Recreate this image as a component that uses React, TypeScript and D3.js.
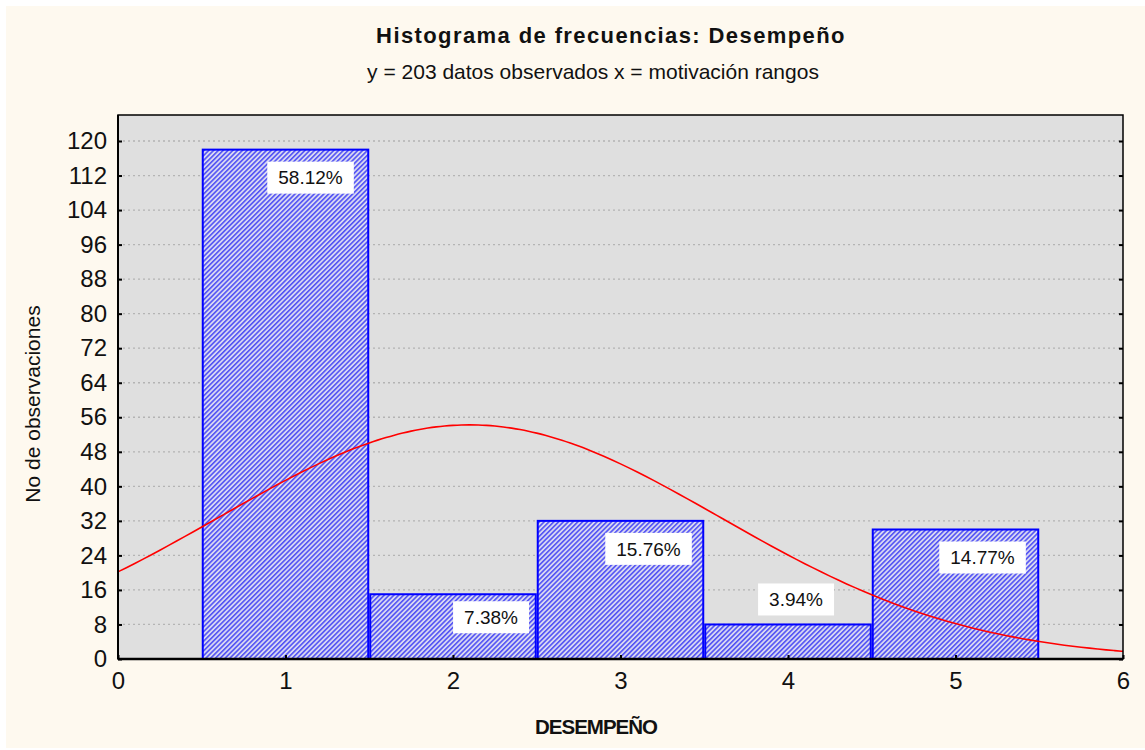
import { useEffect, useRef } from "react";
import * as d3 from "d3";

// bins of DESEMPEÑO and their observed counts
const categories = [1, 2, 3, 4, 5];
const counts = [118, 15, 32, 8, 30];
const percentLabels = ["58.12%", "7.38%", "15.76%", "3.94%", "14.77%"];
const yTicks = d3.range(0, 121, 8);
const xTicks = [0, 1, 2, 3, 4, 5, 6];

// label box placement relative to bar top / bar centre (layout only)
const labelDx = [25, 38, 28, 8, 27];
const labelDy = [28, 23, 28, -25, 28];

export default function App() {
    const svgRef = useRef(null);

    useEffect(() => {
        const svg = d3.select(svgRef.current);
        svg.selectAll("*").remove();

        const W = 1145;
        const H = 750;
        const margin = { top: 115, right: 22, bottom: 91, left: 118 };
        const innerW = W - margin.left - margin.right;
        const innerH = H - margin.top - margin.bottom;
        const font = "'Liberation Sans', Arial, sans-serif";

        svg.attr("width", W).attr("height", H);

        // background
        svg.append("rect").attr("width", W).attr("height", H).attr("fill", "#ffffff");
        svg.append("rect").attr("x", 6).attr("y", 6).attr("width", W - 6).attr("height", H - 8).attr("fill", "#fef9ef");

        // hatch pattern
        const defs = svg.append("defs");
        const pat = defs.append("pattern")
            .attr("id", "hatch")
            .attr("patternUnits", "userSpaceOnUse")
            .attr("width", 3.4)
            .attr("height", 3.4)
            .attr("patternTransform", "rotate(45)");
        pat.append("rect").attr("width", 3.4).attr("height", 3.4).attr("fill", "#d8d8f2");
        pat.append("line")
            .attr("x1", 0.8).attr("y1", 0).attr("x2", 0.8).attr("y2", 3.4)
            .attr("stroke", "#4040f5").attr("stroke-width", 1.4);

        const x = d3.scaleLinear().domain([0, 6]).range([0, innerW]);
        const y = d3.scaleLinear().domain([0, 120]).range([innerH, innerH - 518]);

        const g = svg.append("g").attr("transform", `translate(${margin.left},${margin.top})`);

        g.append("rect").attr("width", innerW).attr("height", innerH).attr("fill", "#dfdfdf");

        // dotted grid
        g.append("g")
            .selectAll("line")
            .data(yTicks.filter(d => d > 0))
            .enter()
            .append("line")
            .attr("x1", 0).attr("x2", innerW)
            .attr("y1", d => y(d)).attr("y2", d => y(d))
            .attr("stroke", "#b4b4b4")
            .attr("stroke-width", 1.3)
            .attr("stroke-dasharray", "2,3");

        // bars
        g.selectAll(".bar")
            .data(categories)
            .enter()
            .append("rect")
            .attr("class", "bar")
            .attr("x", d => x(d - 0.5) + 1)
            .attr("y", (d, i) => y(counts[i]))
            .attr("width", d => x(d + 0.5) - x(d - 0.5) - 2)
            .attr("height", (d, i) => innerH - y(counts[i]))
            .attr("fill", "url(#hatch)")
            .attr("stroke", "#0000ff")
            .attr("stroke-width", 2);

        // fitted normal curve
        const values = categories.flatMap((c, i) => d3.range(counts[i]).map(() => c));
        const mu = d3.mean(values);
        const sd = d3.deviation(values);
        const n = values.length;
        const normal = v => (n / (sd * Math.sqrt(2 * Math.PI))) * Math.exp(-((v - mu) ** 2) / (2 * sd * sd));
        const line = d3.line().x(d => x(d)).y(d => y(normal(d))).curve(d3.curveBasis);
        g.append("path")
            .datum(d3.range(0, 6.001, 0.05))
            .attr("fill", "none")
            .attr("stroke", "#ff0000")
            .attr("stroke-width", 1.6)
            .attr("d", line);

        // percentage labels
        const lbl = g.selectAll(".lbl")
            .data(categories)
            .enter()
            .append("g")
            .attr("class", "lbl")
            .attr("transform", (d, i) => `translate(${x(d) + labelDx[i]},${y(counts[i]) + labelDy[i]})`);
        lbl.append("text")
            .attr("text-anchor", "middle")
            .attr("dy", "0.36em")
            .attr("font-family", font)
            .attr("font-size", 19)
            .attr("fill", "#111")
            .text((d, i) => percentLabels[i])
            .each(function () {
                const bb = this.getBBox();
                d3.select(this.parentNode)
                    .insert("rect", "text")
                    .attr("x", bb.x - 11)
                    .attr("y", -16)
                    .attr("width", bb.width + 22)
                    .attr("height", 32)
                    .attr("fill", "#ffffff");
            });

        // frame
        g.append("rect").attr("width", innerW).attr("height", innerH)
            .attr("fill", "none").attr("stroke", "#000").attr("stroke-width", 1.5);
        g.append("line").attr("x1", 0).attr("x2", innerW).attr("y1", innerH).attr("y2", innerH)
            .attr("stroke", "#000").attr("stroke-width", 2.5);
        g.append("line").attr("x1", 0).attr("x2", 0).attr("y1", 0).attr("y2", innerH)
            .attr("stroke", "#000").attr("stroke-width", 2);

        // axes
        const styleAxis = sel => {
            sel.select(".domain").remove();
            sel.selectAll("line").attr("stroke", "#000").attr("stroke-width", 2);
            sel.selectAll("text").attr("font-family", font).attr("font-size", 24).attr("fill", "#111");
        };
        g.append("g")
            .call(d3.axisLeft(y).tickValues(yTicks).tickSizeInner(-4).tickPadding(11))
            .call(styleAxis);
        g.append("g")
            .attr("transform", `translate(${innerW},0)`)
            .call(d3.axisRight(y).tickValues(yTicks).tickSizeInner(-4).tickFormat(""))
            .call(styleAxis);
        g.append("g")
            .attr("transform", `translate(0,${innerH})`)
            .call(d3.axisBottom(x).tickValues(xTicks).tickFormat(d3.format("d")).tickSizeInner(-4).tickPadding(13))
            .call(styleAxis);

        // titles
        svg.append("text")
            .attr("x", 611).attr("y", 43)
            .attr("text-anchor", "middle")
            .attr("font-family", font).attr("font-size", 22).attr("font-weight", "bold")
            .attr("letter-spacing", 1.4)
            .attr("fill", "#111")
            .text("Histograma de frecuencias: Desempeño");
        svg.append("text")
            .attr("x", 593).attr("y", 79)
            .attr("text-anchor", "middle")
            .attr("font-family", font).attr("font-size", 21)
            .attr("fill", "#111")
            .text("y = 203 datos observados x = motivación rangos");
        svg.append("text")
            .attr("x", 596).attr("y", 734)
            .attr("text-anchor", "middle")
            .attr("font-family", font).attr("font-size", 20.5).attr("font-weight", "bold")
            .attr("letter-spacing", -1)
            .attr("fill", "#111")
            .text("DESEMPEÑO");
        svg.append("text")
            .attr("transform", "translate(40,404) rotate(-90)")
            .attr("text-anchor", "middle")
            .attr("font-family", font).attr("font-size", 21)
            .attr("fill", "#111")
            .text("No de observaciones");
    }, []);

    return (
        <div style={{ position: "absolute", left: 0, top: 0 }}>
            <svg ref={svgRef} style={{ display: "block" }} />
        </div>
    );
}
